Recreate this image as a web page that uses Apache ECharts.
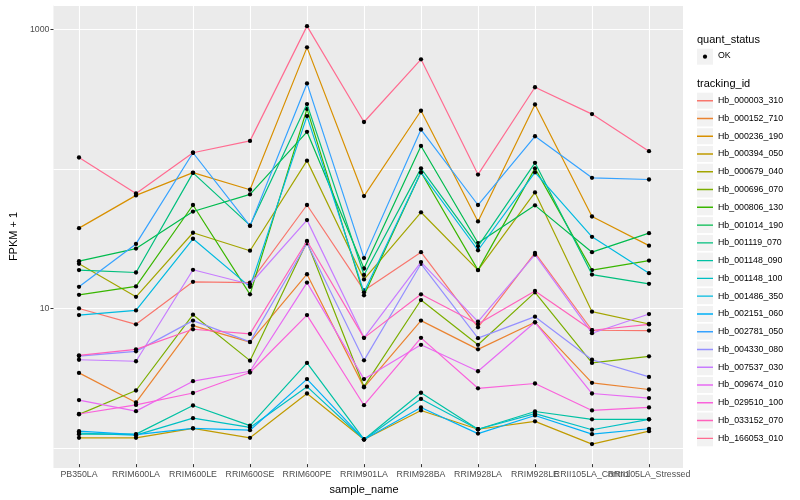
<!DOCTYPE html>
<html>
<head>
<meta charset="utf-8">
<script src="https://cdn.jsdelivr.net/npm/echarts@6/dist/echarts.min.js"></script>
<style>html,body{margin:0;padding:0;background:#fff;}#c{width:800px;height:500px;}</style>
</head>
<body>
<div id="c"></div>
<script>
const categories = ['PB350LA','RRIM600LA','RRIM600LE','RRIM600SE','RRIM600PE','RRIM901LA','RRIM928BA','RRIM928LA','RRIM928LE','RRII105LA_Control','RRII105LA_Stressed'];

const trackingIds = ['Hb_000003_310','Hb_000152_710','Hb_000236_190','Hb_000394_050','Hb_000679_040','Hb_000696_070','Hb_000806_130','Hb_001014_190','Hb_001119_070','Hb_001148_090','Hb_001148_100','Hb_001486_350','Hb_002151_060','Hb_002781_050','Hb_004330_080','Hb_007537_030','Hb_009674_010','Hb_029510_100','Hb_033152_070','Hb_166053_010'];

const colors = ['#F8766D','#EA8331','#D89000','#C09B00','#A3A500','#7CAE00','#39B600','#00BB4E','#00BF7D','#00C1A3','#00BFC4','#00BAE0','#00B0F6','#35A2FF','#9590FF','#C77CFF','#E76BF3','#FA62DB','#FF62BC','#FF6C91'];

// FPKM + 1 values, one per sample
const hb000003_310 = [9.56, 7.34, 14.9, 14.7, 53.5, 12.9, 24.4, 6.99, 24.1, 6.65, 6.62];
const hb000152_710 = [3.27, 2.00, 7.19, 5.46, 16.9, 2.57, 7.81, 4.84, 7.59, 2.77, 2.48];
const hb000236_190 = [36.4, 62.8, 91.8, 69.0, 738, 62.1, 257, 40.7, 285, 44.2, 27.2];
const hb000394_050 = [1.11, 1.11, 1.30, 1.11, 2.32, 1.08, 1.75, 1.28, 1.46, 1.00, 1.24];
const hb000679_040 = [20.1, 11.6, 33.7, 25.0, 112, 15.5, 47.4, 18.1, 66.0, 9.06, 7.38];
const hb000696_070 = [1.64, 2.44, 8.62, 4.01, 28.9, 2.60, 11.0, 5.22, 12.5, 3.86, 4.31];
const hb000806_130 = [12.0, 13.8, 53.5, 12.1, 265, 11.9, 92.2, 18.1, 98.5, 18.1, 21.2];
const hb001014_190 = [21.0, 25.9, 48.0, 63.8, 181, 18.6, 143, 28.4, 53.2, 24.4, 33.5];
const hb001119_070 = [18.1, 17.4, 91.3, 38.1, 287, 16.7, 98.5, 26.9, 108, 16.8, 14.4];
const hb001148_090 = [1.18, 1.18, 1.90, 1.36, 3.86, 1.08, 2.35, 1.28, 1.72, 1.51, 1.51];
const hb001148_100 = [1.20, 1.16, 1.54, 1.32, 2.60, 1.08, 2.12, 1.28, 1.66, 1.27, 1.51];
const hb001486_350 = [8.56, 9.25, 30.5, 13.7, 235, 12.5, 92.2, 25.2, 92.2, 31.5, 17.2];
const hb002151_060 = [1.24, 1.17, 1.30, 1.26, 2.95, 1.08, 1.84, 1.19, 1.61, 1.18, 1.29];
const hb002781_050 = [13.7, 28.0, 127.7, 37.8, 405, 22.1, 188, 53.5, 168, 84.1, 81.8];
const hb004330_080 = [4.33, 4.68, 7.81, 5.48, 28.3, 4.03, 20.1, 5.83, 8.34, 4.07, 3.06];
const hb007537_030 = [4.07, 3.97, 18.2, 14.3, 41.6, 5.86, 20.7, 7.68, 23.4, 6.33, 8.71];
const hb009674_010 = [2.08, 1.73, 2.85, 3.36, 14.7, 2.95, 5.22, 3.36, 7.59, 2.32, 2.15];
const hb029510_100 = [1.65, 1.92, 2.34, 3.29, 8.56, 1.91, 5.86, 2.53, 2.74, 1.75, 1.84];
const hb033152_070 = [4.38, 4.84, 6.76, 6.26, 29.4, 5.86, 12.1, 7.38, 12.8, 6.65, 7.34];
const hb166053_010 = [118, 64.9, 127.7, 155.6, 1051, 213, 605, 88.8, 380, 243, 131];

const yTickLabels = [10, 1000];

const seriesValues = [hb000003_310, hb000152_710, hb000236_190, hb000394_050, hb000679_040, hb000696_070, hb000806_130, hb001014_190, hb001119_070, hb001148_090, hb001148_100, hb001486_350, hb002151_060, hb002781_050, hb004330_080, hb007537_030, hb009674_010, hb029510_100, hb033152_070, hb166053_010];

const Y_MIN = 0.7165, Y_MAX = 1494;
const FONT = 'Liberation Sans, Arial, sans-serif';

const chart = echarts.init(document.getElementById('c'), null, {renderer: 'canvas'});

const keyIcon = 'path://M0,0L0.01,0L0,0.01Z M0,7.3L16,7.3L16,8.7L0,8.7Z M16,16L15.99,16L16,15.99Z';

const graphics = [
  {type: 'text', left: 697, top: 34, style: {text: 'quant_status', font: '11px ' + FONT, fill: '#000'}},
  {type: 'rect', shape: {x: 697, y: 48.7, width: 16, height: 16}, style: {fill: '#F2F2F2'}},
  {type: 'circle', shape: {cx: 705, cy: 56.7, r: 2.1}, style: {fill: '#000'}},
  {type: 'text', left: 718, top: 51.5, style: {text: 'OK', font: '8.8px ' + FONT, fill: '#000'}},
  {type: 'text', left: 697, top: 78, style: {text: 'tracking_id', font: '11px ' + FONT, fill: '#000'}}
];
trackingIds.forEach(function (id, i) {
  graphics.push({type: 'rect', shape: {x: 697, y: 92.7 + i * 17.77, width: 16, height: 16}, style: {fill: '#F2F2F2'}});
});

const option = {
  backgroundColor: '#fff',
  animation: false,
  textStyle: {fontFamily: FONT},
  grid: [
    {left: 45, right: 117, top: 5, bottom: 32, show: true, backgroundColor: '#EBEBEB', borderWidth: 0},
    {left: 79, right: 151, top: 5, bottom: 32}
  ],
  xAxis: [
    {gridIndex: 0, type: 'value', min: 0, max: 1, show: false},
    {gridIndex: 1, type: 'category', data: categories, boundaryGap: false,
     axisLine: {show: false},
     axisTick: {show: true, length: 3, lineStyle: {color: '#333333', width: 1}},
     axisLabel: {interval: 0, fontSize: 8.8, color: '#4D4D4D', margin: 6, fontFamily: FONT},
     splitLine: {show: true, lineStyle: {color: '#FFFFFF', width: 1.1}},
     name: 'sample_name', nameLocation: 'middle', nameGap: 12,
     nameTextStyle: {fontSize: 11, color: '#000', fontFamily: FONT}}
  ],
  yAxis: [
    {gridIndex: 0, type: 'log', logBase: 10, min: Y_MIN, max: Y_MAX, position: 'left',
     axisLine: {show: false}, axisTick: {show: false}, axisLabel: {show: false},
     splitLine: {show: true, lineStyle: {color: '#FFFFFF', width: 1}}},
    {gridIndex: 0, type: 'log', logBase: 10, min: Y_MIN, max: Y_MAX, position: 'left',
     axisLine: {show: false},
     axisTick: {show: true, length: 3, customValues: yTickLabels, lineStyle: {color: '#333333', width: 1}},
     axisLabel: {show: true, customValues: yTickLabels, fontSize: 8.8, color: '#4D4D4D', margin: 4, fontFamily: FONT,
       formatter: function (v) { const r = Math.round(v); return yTickLabels.indexOf(r) >= 0 ? String(r) : ''; }},
     splitLine: {show: false},
     name: 'FPKM + 1', nameLocation: 'middle', nameGap: 26, nameRotate: 90,
     nameTextStyle: {fontSize: 11, color: '#000', fontFamily: FONT}},
    {gridIndex: 1, type: 'log', logBase: 10, min: Y_MIN, max: Y_MAX, show: false}
  ],
  legend: {
    orient: 'vertical', left: 697, top: 92.7, padding: 0, z: 10,
    itemWidth: 16, itemHeight: 16, itemGap: 1.77,
    selectedMode: false,
    textStyle: {fontSize: 8.8, color: '#000', fontFamily: FONT},
    data: trackingIds.map(function (id, i) {
      return {name: id, icon: keyIcon, itemStyle: {color: colors[i], borderWidth: 0}};
    })
  },
  graphic: {elements: graphics},
  series: trackingIds.map(function (id, i) {
    return {
      name: id, type: 'line', xAxisIndex: 1, yAxisIndex: 2,
      data: seriesValues[i],
      symbol: 'circle', symbolSize: 4.3, showSymbol: true,
      itemStyle: {color: '#000'},
      lineStyle: {color: colors[i], width: 1.2},
      emphasis: {disabled: true},
      z: 2 + i * 0.01
    };
  })
};
chart.setOption(option);
</script>
</body>
</html>
